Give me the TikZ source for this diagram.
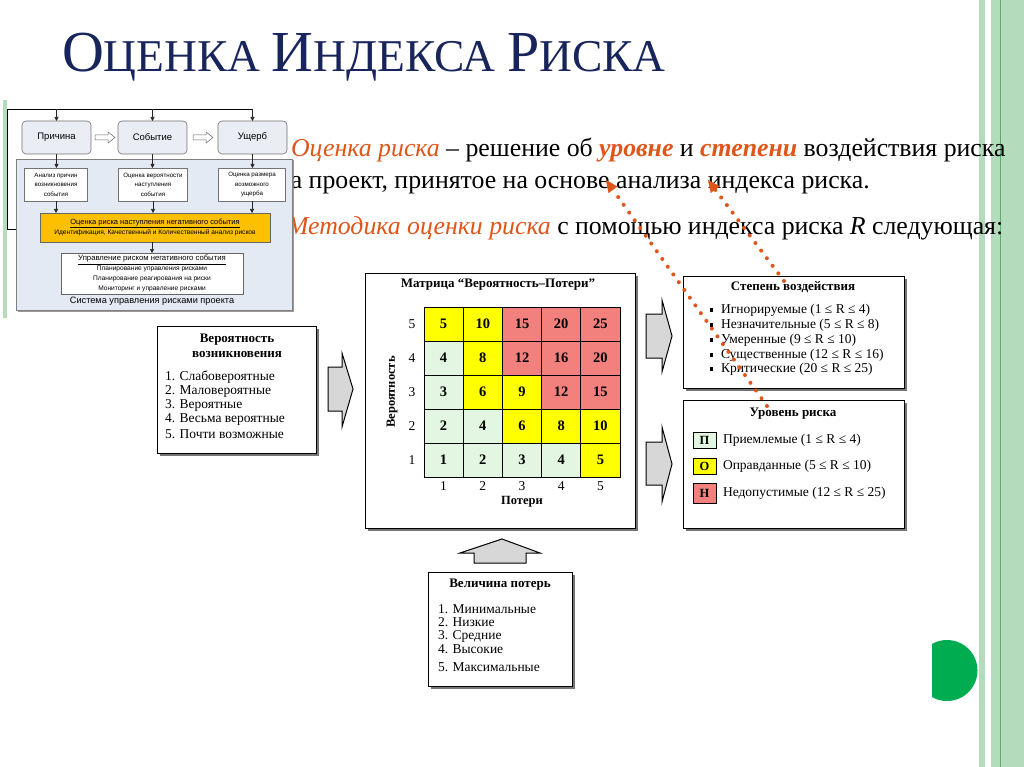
\documentclass[tikz,border=0pt]{standalone}
\usepackage{fontspec}
\setmainfont{Liberation Serif}
\newfontfamily\insetf{Liberation Sans}
\usetikzlibrary{shadows,arrows.meta}
\definecolor{orng}{RGB}{222,86,26}
\definecolor{navy}{RGB}{24,36,92}
\definecolor{mred}{RGB}{242,128,124}
\definecolor{myel}{RGB}{255,255,0}
\definecolor{mgrn}{RGB}{226,246,226}
\definecolor{strp}{RGB}{180,219,188}
\definecolor{strpd}{RGB}{90,175,110}
\definecolor{dgrn}{RGB}{0,172,80}
\definecolor{panelc}{RGB}{228,234,244}
\definecolor{rbox}{RGB}{234,237,244}
\definecolor{ybox}{RGB}{252,192,0}
\definecolor{arrg}{RGB}{215,215,215}
\newcommand{\fsz}[1]{\fontsize{#1}{#1}\selectfont}
\newcommand{\ttlb}{\fontsize{58}{58}\selectfont}
\newcommand{\ttls}{\fontsize{45.5}{45.5}\selectfont}
\newcommand{\ttltext}{\ttlb О\ttls ЦЕНКА \ttlb И\ttls НДЕКСА \ttlb Р\ttls ИСКА}
\tikzset{
 frame/.style={draw=black, line width=0.9pt, fill=white, inner sep=0pt, outer sep=0pt, anchor=north west,
   drop shadow={shadow xshift=3pt, shadow yshift=-3pt, fill=black!60, opacity=0.9}},
 lbl/.style={inner sep=0pt, outer sep=0pt},
 hd/.style={lbl, font=\bfseries\fsz{13}},
 item/.style={lbl, anchor=west, font=\fsz{13.5}},
 cell/.style={draw=black, line width=0.7pt, minimum width=39.2pt, minimum height=34pt, inner sep=0pt, outer sep=0pt, font=\bfseries\fsz{14.5}},
 blockarrow/.style={draw=black, line width=1pt, fill=arrg, line join=miter},
 dotarrow/.style={draw=orng, line width=4pt, line cap=round, dash pattern=on 0pt off 9.5pt,
   -{Triangle[length=12pt,width=11pt,line width=0.1pt,fill=orng]}},
 rbx/.style={draw=black!55, fill=rbox, line width=0.6pt, rounded corners=4pt, minimum width=69pt, minimum height=33pt, inner sep=0pt, outer sep=0pt, font=\insetf\fsz{9.5}},
 sbx/.style={draw=black!55, fill=white, line width=0.5pt, minimum height=33pt, inner sep=0pt, outer sep=0pt, align=center, font=\insetf\fontsize{6.2}{9.5}\selectfont},
 iarr/.style={-{Triangle[length=4pt,width=4pt]}, line width=0.6pt, draw=black!85},
 harr/.style={draw=black!60, fill=white, line width=0.5pt},
}
\newcommand{\mcell}[4]{\node[cell, fill=#4] (c#1#2) at ({424+39.2*(#2-0.5)},{307+34*(#1-0.5)}) {#3};}
\begin{document}
\begin{tikzpicture}[x=1pt,y=-1pt]
\useasboundingbox (0,0) rectangle (1024,767);
\fill[white] (0,0) rectangle (1024,767);
% decoration
\fill[strp] (979,0) rectangle (985,767);
\fill[strp] (991,0) rectangle (1024,767);
\draw[strpd, line width=1pt] (1000,0) -- (1000,767);
\fill[strp] (3,100) rectangle (7,318);
\begin{scope}
\clip (932,600) rectangle (1000,720);
\fill[dgrn] (947,670.5) circle (30.5pt);
\end{scope}
% title
\node[lbl, anchor=base west, text=navy] (title) at (62,72) {\ttltext};
% body text
\node[lbl, anchor=base west, font=\fsz{25.8}] (l1) at (291,157) {\textcolor{orng}{\itshape Оценка риска} – решение об \textcolor{orng}{\bfseries\itshape уровне} и \textcolor{orng}{\bfseries\itshape степени} воздействия риска};
\node[lbl, anchor=base west, font=\fsz{25.8}] (l2) at (277,189) {на проект, принятое на основе анализа индекса риска.};
\node[lbl, anchor=base west, font=\fsz{25.8}] (l3) at (287,235) {\textcolor{orng}{\itshape Методика оценки риска} с помощью индекса риска \textit{R} следующая:};

% ===== inset =====
\draw[line width=0.7pt] (40,229) -- (7,229) -- (7,109) -- (253,109);
\node[draw=black!50, fill=panelc, line width=0.6pt, minimum width=276pt, minimum height=151pt, inner sep=0pt, outer sep=0pt, anchor=north west,
  drop shadow={shadow xshift=1.5pt, shadow yshift=-1.5pt, fill=black!50, opacity=0.8}] (pnl) at (16,159) {};
\node[rbx] (b1) at (56.5,137.5) {Причина};
\node[rbx] (b2) at (152.5,137.5) {Событие};
\node[rbx] (b3) at (252.5,137.5) {Ущерб};
\coordinate (t1) at (56.5,109);
\coordinate (t2) at (152.5,109);
\coordinate (t3) at (252.5,109);
\draw[iarr] (t1) -- (b1.north);
\draw[iarr] (t2) -- (b2.north);
\draw[iarr] (t3) -- (b3.north);
\draw[harr] (95,135) -- (108,135) -- (108,132) -- (115,137.5) -- (108,143) -- (108,140) -- (95,140) -- cycle;
\draw[harr] (193,135) -- (206,135) -- (206,132) -- (213,137.5) -- (206,143) -- (206,140) -- (193,140) -- cycle;
\node[sbx, minimum width=63pt] (s1) at (56,184.5) {Анализ причин\\возникновения\\события};
\node[sbx, minimum width=69pt] (s2) at (153,184.5) {Оценка вероятности\\наступления\\события};
\node[sbx, minimum width=67pt] (s3) at (252,184.5) {Оценка размера\\возможного\\ущерба};
\draw[iarr] (b1.south) -- (b1.south |- s1.north);
\draw[iarr] (b2.south) -- (b2.south |- s2.north);
\draw[iarr] (b3.south) -- (b3.south |- s3.north);
\node[draw=black!60, fill=ybox, line width=0.6pt, minimum width=230pt, minimum height=29pt, inner sep=0pt, outer sep=0pt, align=center,
  font=\insetf\fontsize{7.5}{10}\selectfont] (yb) at (155,227.5) {\underline{Оценка риска наступления негативного события}\\{\fontsize{6.6}{8}\selectfont Идентификация, Качественный и Количественный анализ рисков}};
\draw[iarr] (s1.south) -- (s1.south |- yb.north);
\draw[iarr] (s2.south) -- (s2.south |- yb.north);
\draw[iarr] (s3.south) -- (s3.south |- yb.north);
\node[draw=black!60, fill=white, line width=0.6pt, minimum width=182pt, minimum height=41pt, inner sep=0pt, outer sep=0pt, align=center,
  font=\insetf\fontsize{6.6}{9.8}\selectfont] (wb) at (152,273.5) {{\fontsize{7.7}{10}\selectfont\underline{Управление риском негативного события}}\\Планирование управления рисками\\Планирование реагирования на риски\\Мониторинг и управление рисками};
\draw[iarr] (yb.south -| wb.north) -- (wb.north);
\node[lbl, font=\insetf\fsz{9.2}] (cap) at (152,301) {Система управления рисками проекта};

% ===== matrix =====
\node[frame, minimum width=270pt, minimum height=255pt] (mat) at (365,273) {};
\node[lbl, font=\bfseries\fsz{13}] (mattitle) at (498,285) {Матрица “Вероятность–Потери”};
\mcell{1}{1}{5}{myel}\mcell{1}{2}{10}{myel}\mcell{1}{3}{15}{mred}\mcell{1}{4}{20}{mred}\mcell{1}{5}{25}{mred}
\mcell{2}{1}{4}{mgrn}\mcell{2}{2}{8}{myel}\mcell{2}{3}{12}{mred}\mcell{2}{4}{16}{mred}\mcell{2}{5}{20}{mred}
\mcell{3}{1}{3}{mgrn}\mcell{3}{2}{6}{myel}\mcell{3}{3}{9}{myel}\mcell{3}{4}{12}{mred}\mcell{3}{5}{15}{mred}
\mcell{4}{1}{2}{mgrn}\mcell{4}{2}{4}{mgrn}\mcell{4}{3}{6}{myel}\mcell{4}{4}{8}{myel}\mcell{4}{5}{10}{myel}
\mcell{5}{1}{1}{mgrn}\mcell{5}{2}{2}{mgrn}\mcell{5}{3}{3}{mgrn}\mcell{5}{4}{4}{mgrn}\mcell{5}{5}{5}{myel}
\foreach \r/\v in {1/5,2/4,3/3,4/2,5/1}{
  \node[lbl, font=\fsz{13.5}] (rl\v) at (412,{307+34*(\r-0.5)}) {\v};
}
\foreach \c in {1,...,5}{
  \node[lbl, font=\fsz{13.5}] (cl\c) at ({424+39.2*(\c-0.5)},486) {\c};
}
\node[lbl, font=\bfseries\fsz{12.5}] (poteri) at (522,502) {Потери};
\node[lbl, font=\bfseries\fsz{12.5}, rotate=90] (veroy) at (392,392) {Вероятность};

% ===== left box =====
\node[frame, minimum width=159pt, minimum height=127pt] (lb) at (157,326) {};
\node[hd] (lbt1) at (237,340) {Вероятность};
\node[hd] (lbt2) at (237,354) {возникновения};
\node[item] (lb1) at (165,377) {1. Слабовероятные};
\node[item] (lb2) at (165,391) {2. Маловероятные};
\node[item] (lb3) at (165,405) {3. Вероятные};
\node[item] (lb4) at (165,419) {4. Весьма вероятные};
\node[item] (lb5) at (165,434) {5. Почти возможные};

% ===== right box 1 =====
\node[frame, minimum width=221pt, minimum height=112pt] (rb1) at (683,276) {};
\node[hd] (rb1t) at (793,287) {Степень воздействия};
\foreach \yy/\tx [count=\k] in {310/{Игнорируемые (1 ≤ R ≤ 4)},325/{Незначительные (5 ≤ R ≤ 8)},340/{Умеренные (9 ≤ R ≤ 10)},355/{Существенные (12 ≤ R ≤ 16)},369/{Критические (20 ≤ R ≤ 25)}}{
  \fill (709.5,{\yy-1.75}) rectangle +(3.5,3.5);
  \node[item] (rbi\k) at (721,\yy) {\tx};
}

% ===== right box 2 =====
\node[frame, minimum width=221pt, minimum height=128pt] (rb2) at (683,400) {};
\node[hd] (rb2t) at (793,414) {Уровень риска};
\node[draw=black, line width=0.8pt, fill=mgrn, minimum width=23pt, minimum height=16pt, inner sep=0pt, font=\bfseries\fsz{12.5}] (sq1) at (704.5,440) {П};
\node[draw=black, line width=0.8pt, fill=myel, minimum width=23pt, minimum height=16pt, inner sep=0pt, font=\bfseries\fsz{12.5}] (sq2) at (704.5,466) {О};
\node[draw=black, line width=0.8pt, fill=mred, minimum width=23pt, minimum height=20pt, inner sep=0pt, font=\bfseries\fsz{12.5}] (sq3) at (704.5,493) {Н};
\node[item] (rl1) at (723,440) {Приемлемые (1 ≤ R ≤ 4)};
\node[item] (rl2) at (723,466) {Оправданные (5 ≤ R ≤ 10)};
\node[item] (rl3) at (723,493) {Недопустимые (12 ≤ R ≤ 25)};

% ===== bottom box =====
\node[frame, minimum width=144pt, minimum height=114pt] (bb) at (428,572) {};
\node[hd] (bbt) at (500,585) {Величина потерь};
\node[item] (bb1) at (438,609) {1. Минимальные};
\node[item] (bb2) at (438,622) {2. Низкие};
\node[item] (bb3) at (438,636) {3. Средние};
\node[item] (bb4) at (438,649) {4. Высокие};
\node[item] (bb5) at (438,667) {5. Максимальные};

% ===== block arrows =====
\draw[blockarrow] (328,367) -- (342,367) -- (342,353) -- (353,389) -- (342,427) -- (342,411) -- (328,411) -- cycle;
\draw[blockarrow] (646,314) -- (662,314) -- (662,300) -- (672,336) -- (662,372) -- (662,358) -- (646,358) -- cycle;
\draw[blockarrow] (646,442) -- (662,442) -- (662,427) -- (672,464) -- (662,502) -- (662,485) -- (646,485) -- cycle;
\draw[blockarrow] (474,563) -- (474,553) -- (460,553) -- (502,539) -- (540,553) -- (526,553) -- (526,563) -- cycle;

% ===== dotted arrows =====
\coordinate (d1s) at (767,406);
\coordinate (d1e) at (606,180);
\coordinate (d2s) at (784,281);
\coordinate (d2e) at (708,180);
\draw[dotarrow] (d1s) -- (d1e);
\draw[dotarrow] (d2s) -- (d2e);
\end{tikzpicture}
\end{document}
